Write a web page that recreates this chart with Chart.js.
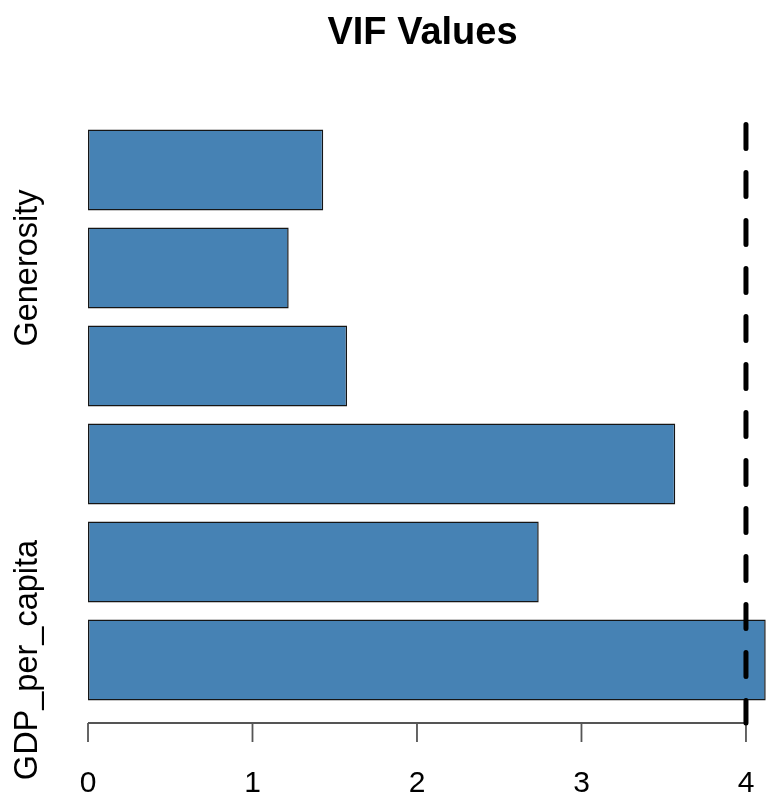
<!DOCTYPE html>
<html><head><meta charset="utf-8">
<script src="https://cdn.jsdelivr.net/npm/chart.js@4.4.1/dist/chart.umd.min.js"></script>
<style>html,body{margin:0;padding:0;background:#fff}#wrap{width:769px;height:799px}</style>
</head><body><div id="wrap"><canvas id="c" width="769" height="799"></canvas></div>
<script>
// ---- data (bottom to top, as in the R barplot) ----
const categories = ["GDP_per_capita", "Social_support", "Healthy_life_expectancy",
                    "Freedom_to_make_life_choices", "Generosity", "Perceptions_of_corruption"];
const vifValues = [4.12, 2.74, 3.57, 1.575, 1.22, 1.43];
const xTickValues = [0, 1, 2, 3, 4];
const vifThreshold = 4;
const titleText = "VIF Values";

const FONT = '"Liberation Sans", Arial, Helvetica, sans-serif';

const rDecor = {
  id: 'rDecor',
  afterDatasetsDraw(chart) {
    const ctx = chart.ctx;
    const ca = chart.chartArea;
    const xs = chart.scales.x, ys = chart.scales.y;
    const axisY = ca.bottom + 14;
    ctx.save();
    // x axis line and ticks (from first to last tick)
    ctx.strokeStyle = '#555';
    ctx.lineWidth = 1.8;
    const x0 = xs.getPixelForValue(xTickValues[0]);
    const x1 = xs.getPixelForValue(xTickValues[xTickValues.length - 1]);
    ctx.beginPath();
    ctx.moveTo(x0, axisY); ctx.lineTo(x1, axisY);
    xTickValues.forEach(v => {
      const px = xs.getPixelForValue(v);
      ctx.moveTo(px, axisY); ctx.lineTo(px, axisY + 19);
    });
    ctx.stroke();
    // dashed threshold line
    const tx = xs.getPixelForValue(vifThreshold);
    ctx.strokeStyle = '#000';
    ctx.lineWidth = 5;
    ctx.lineCap = 'round';
    ctx.setLineDash([24, 24]);
    ctx.beginPath();
    ctx.moveTo(tx, ca.top + 3.5);
    ctx.lineTo(tx, axisY);
    ctx.stroke();
    ctx.setLineDash([]);
    // y category labels (R style: skip overlapping ones)
    ctx.fillStyle = '#000';
    ctx.font = '32.5px ' + FONT;
    const gap = ctx.measureText('m').width;
    let lastTop = null;
    chart.data.labels.forEach((lab, i) => {
      const yc = ys.getPixelForValue(i);
      const w = ctx.measureText(lab).width;
      const bottom = yc + w / 2;
      if (lastTop === null || bottom + gap <= lastTop) {
        ctx.save();
        ctx.translate(ca.left - 51, yc);
        ctx.rotate(-Math.PI / 2);
        ctx.textAlign = 'center';
        ctx.textBaseline = 'alphabetic';
        ctx.fillText(lab, 0, 0);
        ctx.restore();
        lastTop = yc - w / 2;
      }
    });
    // title
    ctx.font = 'bold 38px ' + FONT;
    ctx.textAlign = 'center';
    ctx.textBaseline = 'alphabetic';
    ctx.fillText(titleText, (ca.left + ca.right) / 2 - 6, 44);
    ctx.restore();
  }
};

new Chart(document.getElementById('c'), {
  type: 'bar',
  data: {
    labels: categories,
    datasets: [{
      data: vifValues,
      backgroundColor: '#4682B4',
      borderColor: '#151515',
      borderWidth: 1.5,
      borderSkipped: false,
      barPercentage: 0.825,
      categoryPercentage: 1.0
    }]
  },
  options: {
    indexAxis: 'y',
    responsive: false,
    animation: false,
    devicePixelRatio: 1,
    layout: { padding: { left: 88, right: 0, top: 121, bottom: 0 } },
    plugins: { legend: { display: false }, tooltip: { enabled: false }, title: { display: false } },
    scales: {
      x: {
        type: 'linear',
        min: 0,
        max: 4.14,
        afterBuildTicks: (scale) => { scale.ticks = xTickValues.map(v => ({ value: v })); },
        ticks: { color: '#000', padding: 0, font: { family: FONT, size: 30, lineHeight: 1.0 } },
        grid: { display: false, drawTicks: true, tickLength: 60 },
        border: { display: false }
      },
      y: {
        type: 'category',
        reverse: true,
        display: false,
        offset: true
      }
    }
  },
  plugins: [rDecor]
});
</script>
</body></html>
